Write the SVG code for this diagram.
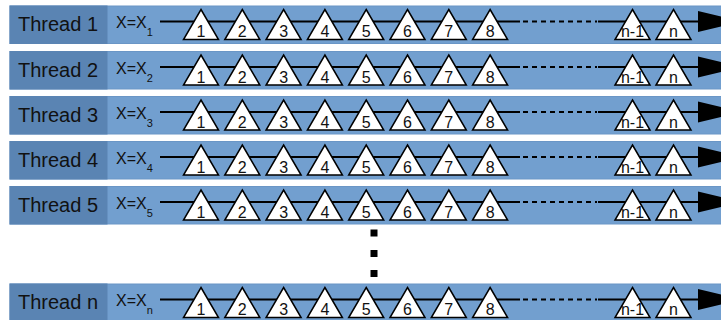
<svg xmlns="http://www.w3.org/2000/svg" xmlns:xlink="http://www.w3.org/1999/xlink" width="721" height="320" viewBox="0 0 721 320">
<style>
.band{fill:#729fcf;stroke:#6a96c6;stroke-width:1}
.lab{fill:#5a84b3;stroke:#5a84b3;stroke-width:1}
.tt{font-family:"Liberation Sans",Arial,sans-serif;font-size:20px;fill:#111}
.xx{font-family:"Liberation Sans",Arial,sans-serif;font-size:16px;fill:#111}
.sub{font-family:"Liberation Sans",Arial,sans-serif;font-size:11px;fill:#111}
.num{font-family:"Liberation Sans",Arial,sans-serif;font-size:16px;fill:#111;text-anchor:middle}
.ln{stroke:#000;stroke-width:2;fill:none}
.dash{stroke:#000;stroke-width:2;fill:none;stroke-dasharray:5 4}
.tri{fill:#fff;stroke:#000;stroke-width:1.5;stroke-linejoin:miter}
.dot{fill:#000}
</style>
<defs>
<path id="tri" class="tri" d="M0,3.5 L17.5,33.5 L-17.5,33.5 Z"/>
<g id="timeline">
<line class="ln" x1="160" y1="15.5" x2="520" y2="15.5"/>
<line class="dash" x1="523" y1="15.5" x2="597" y2="15.5"/>
<line class="ln" x1="598" y1="15.5" x2="700" y2="15.5"/>
<polygon points="698,5 742,15.5 698,26" fill="#000"/>
<use xlink:href="#tri" x="201"/><text class="num" x="201" y="31">1</text>
<use xlink:href="#tri" x="242.3"/><text class="num" x="242.3" y="31">2</text>
<use xlink:href="#tri" x="283.6"/><text class="num" x="283.6" y="31">3</text>
<use xlink:href="#tri" x="324.9"/><text class="num" x="324.9" y="31">4</text>
<use xlink:href="#tri" x="366.2"/><text class="num" x="366.2" y="31">5</text>
<use xlink:href="#tri" x="407.5"/><text class="num" x="407.5" y="31">6</text>
<use xlink:href="#tri" x="448.8"/><text class="num" x="448.8" y="31">7</text>
<use xlink:href="#tri" x="490.1"/><text class="num" x="490.1" y="31">8</text>
<use xlink:href="#tri" x="632.5"/><text class="num" x="632.5" y="31">n-1</text>
<use xlink:href="#tri" x="673.5"/><text class="num" x="673.5" y="31">n</text>
</g>
</defs>

<g id="thread1" transform="translate(0,6)">
<rect class="band" x="10" y="0" width="720" height="37.5"/>
<rect class="lab" x="10" y="0" width="97" height="37.5"/>
<text class="tt" x="18" y="25">Thread 1</text>
<text class="xx" x="116" y="22">X=X<tspan class="sub" dy="8">1</tspan></text>
</g>
<g id="thread2" transform="translate(0,51.5)">
<rect class="band" x="10" y="0" width="720" height="37.5"/>
<rect class="lab" x="10" y="0" width="97" height="37.5"/>
<text class="tt" x="18" y="25">Thread 2</text>
<text class="xx" x="116" y="22">X=X<tspan class="sub" dy="8">2</tspan></text>
</g>
<g id="thread3" transform="translate(0,96.5)">
<rect class="band" x="10" y="0" width="720" height="37.5"/>
<rect class="lab" x="10" y="0" width="97" height="37.5"/>
<text class="tt" x="18" y="25">Thread 3</text>
<text class="xx" x="116" y="22">X=X<tspan class="sub" dy="8">3</tspan></text>
</g>
<g id="thread4" transform="translate(0,141.5)">
<rect class="band" x="10" y="0" width="720" height="37.5"/>
<rect class="lab" x="10" y="0" width="97" height="37.5"/>
<text class="tt" x="18" y="25">Thread 4</text>
<text class="xx" x="116" y="22">X=X<tspan class="sub" dy="8">4</tspan></text>
</g>
<g id="thread5" transform="translate(0,186.5)">
<rect class="band" x="10" y="0" width="720" height="37.5"/>
<rect class="lab" x="10" y="0" width="97" height="37.5"/>
<text class="tt" x="18" y="25">Thread 5</text>
<text class="xx" x="116" y="22">X=X<tspan class="sub" dy="8">5</tspan></text>
</g>
<g id="threadn" transform="translate(0,284)">
<rect class="band" x="10" y="0" width="720" height="37.5"/>
<rect class="lab" x="10" y="0" width="97" height="37.5"/>
<text class="tt" x="18" y="25">Thread n</text>
<text class="xx" x="116" y="22">X=X<tspan class="sub" dy="8">n</tspan></text>
</g>

<g id="connectors">
<use xlink:href="#timeline" transform="translate(0,6)"/>
<use xlink:href="#timeline" transform="translate(0,51.5)"/>
<use xlink:href="#timeline" transform="translate(0,96.5)"/>
<use xlink:href="#timeline" transform="translate(0,141.5)"/>
<use xlink:href="#timeline" transform="translate(0,186.5)"/>
<use xlink:href="#timeline" transform="translate(0,284)"/>
</g>

<g id="ellipsis">
<rect class="dot" x="370.5" y="229.5" width="7" height="7"/>
<rect class="dot" x="370.5" y="250" width="7" height="7"/>
<rect class="dot" x="370.5" y="270" width="7" height="7"/>
</g>
</svg>
